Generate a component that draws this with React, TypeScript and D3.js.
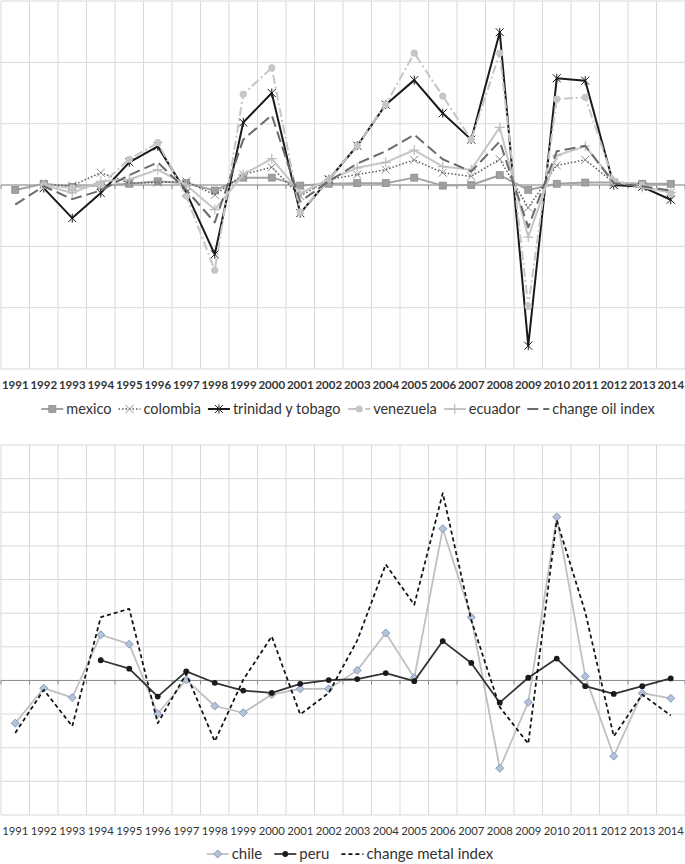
import React from "react";
import * as d3 from "d3";

const years = [
  "1991","1992","1993","1994","1995","1996","1997","1998","1999","2000","2001","2002",
  "2003","2004","2005","2006","2007","2008","2009","2010","2011","2012","2013","2014",
];

// top chart (oil exporters)
const mexico = [-0.08,0.02,-0.03,-0.01,0.02,0.06,0.03,-0.09,0.12,0.12,-0.01,0.02,0.03,0.03,0.12,-0.01,0.0,0.16,-0.08,0.02,0.04,0.04,0.02,0.02];
const colombia = [null,0.0,-0.01,0.2,0.03,0.04,0.06,-0.16,0.17,0.29,-0.18,0.09,0.17,0.25,0.41,0.2,0.14,0.42,-0.37,0.32,0.41,0.04,-0.03,-0.12];
const trinidad = [null,-0.05,-0.54,-0.13,0.37,0.63,-0.12,-1.13,1.02,1.5,-0.46,0.09,0.64,1.31,1.71,1.17,0.74,2.49,-2.62,1.74,1.7,0.0,-0.03,-0.24];
const venezuela = [null,0.0,-0.05,0.0,0.42,0.69,-0.18,-1.39,1.48,1.91,-0.45,0.09,0.64,1.31,2.15,1.45,0.74,2.15,-1.98,1.4,1.43,0.06,0.0,-0.14];
const ecuador = [null,0.0,-0.13,0.06,0.09,0.25,0.0,-0.4,0.17,0.43,-0.13,0.09,0.28,0.37,0.57,0.3,0.25,0.94,-0.85,0.48,0.63,0.06,-0.04,-0.12];
const oilIndex = [-0.32,-0.02,-0.23,-0.09,0.16,0.37,-0.08,-0.61,0.74,1.14,-0.27,0.06,0.35,0.55,0.82,0.42,0.22,0.71,-0.69,0.55,0.64,0.03,-0.02,-0.09];

// bottom chart (metal exporters)
const chile = [-1.27,-0.23,-0.51,1.36,1.08,-0.99,0.02,-0.76,-0.96,-0.42,-0.25,-0.25,0.3,1.41,0.08,4.51,1.88,-2.61,-0.65,4.86,0.12,-2.25,-0.38,-0.53];
const peru = [null,null,null,0.6,0.35,-0.48,0.27,-0.07,-0.3,-0.37,-0.1,0.01,0.04,0.22,-0.02,1.17,0.52,-0.66,0.08,0.65,-0.17,-0.4,-0.17,0.06];
const metalIndex = [-1.56,-0.28,-1.36,1.88,2.13,-1.27,0.2,-1.81,0.02,1.31,-1.01,-0.37,1.19,3.45,2.25,5.57,1.79,-0.79,-1.88,4.76,2.03,-1.66,-0.42,-1.04];

const topDomain = [-3, 3];
const bottomDomain = [-4, 7];

const FONT = "Lato, 'Open Sans', sans-serif";

type Marker = "square" | "x" | "star" | "circle" | "plus" | "diamond" | "dot" | "none";
interface Series {
  name: string;
  values: (number | null)[];
  stroke: string;
  width: number;
  dash?: string;
  marker: Marker;
  mColor: string;
  mStroke?: string;
}

const topSeries: Series[] = [
  { name: "mexico", values: mexico, stroke: "#a3a3a3", width: 2, marker: "square", mColor: "#a0a0a0", mStroke: "#8c8c8c" },
  { name: "colombia", values: colombia, stroke: "#595959", width: 1.5, dash: "1.5,2", marker: "x", mColor: "#8c8c8c" },
  { name: "trinidad y tobago", values: trinidad, stroke: "#1a1a1a", width: 2, marker: "star", mColor: "#1a1a1a" },
  { name: "venezuela", values: venezuela, stroke: "#c6c6c6", width: 2, dash: "9,3,2,3", marker: "circle", mColor: "#c6c6c6" },
  { name: "ecuador", values: ecuador, stroke: "#c6c6c6", width: 2, marker: "plus", mColor: "#bdbdbd" },
  { name: "change oil index", values: oilIndex, stroke: "#6b6b6b", width: 2, dash: "11,5", marker: "none", mColor: "#6b6b6b" },
];

const bottomSeries: Series[] = [
  { name: "chile", values: chile, stroke: "#bfbfbf", width: 1.75, marker: "diamond", mColor: "#b7c2d4", mStroke: "#7f9cc7" },
  { name: "peru", values: peru, stroke: "#333333", width: 1.75, marker: "dot", mColor: "#1a1a1a" },
  { name: "change metal index", values: metalIndex, stroke: "#111111", width: 1.75, dash: "4,3", marker: "none", mColor: "#111" },
];

function MarkerShape({ type, x, y, color, stroke }: { type: Marker; x: number; y: number; color: string; stroke?: string }) {
  const s = 4;
  switch (type) {
    case "square":
      return <rect x={x - 3.5} y={y - 3.5} width={7} height={7} fill={color} stroke={stroke} strokeWidth={0.75} />;
    case "x":
      return (
        <path d={`M${x - s},${y - s}L${x + s},${y + s}M${x - s},${y + s}L${x + s},${y - s}`} stroke={color} strokeWidth={1} fill="none" />
      );
    case "star":
      return (
        <path
          d={`M${x - s},${y - s}L${x + s},${y + s}M${x - s},${y + s}L${x + s},${y - s}M${x},${y - s - 0.5}L${x},${y + s + 0.5}`}
          stroke={color}
          strokeWidth={1}
          fill="none"
        />
      );
    case "circle":
      return <circle cx={x} cy={y} r={3.6} fill={color} />;
    case "plus":
      return <path d={`M${x - s - 1},${y}L${x + s + 1},${y}M${x},${y - s - 1}L${x},${y + s + 1}`} stroke={color} strokeWidth={1.2} fill="none" />;
    case "diamond":
      return <path d={`M${x},${y - 4}L${x + 4},${y}L${x},${y + 4}L${x - 4},${y}Z`} fill={color} stroke={stroke} strokeWidth={1} />;
    case "dot":
      return <circle cx={x} cy={y} r={2.9} fill={color} />;
    default:
      return null;
  }
}

let measureCtx: CanvasRenderingContext2D | null = null;
function textWidth(t: string, size: number, weight = "normal") {
  if (!measureCtx) {
    const c = document.createElement("canvas");
    measureCtx = c.getContext("2d");
  }
  if (!measureCtx) return t.length * size * 0.5;
  measureCtx.font = `${weight} ${size}px Lato`;
  return measureCtx.measureText(t).width;
}

function Legend({ series, y, center, size, gap, symW }: { series: Series[]; y: number; center: number; size: number; gap: number; symW: number }) {
  const items = series.map((s) => ({ s, w: symW + 3 + textWidth(s.name, size) }));
  const total = items.reduce((a, b) => a + b.w, 0) + gap * (items.length - 1);
  let cx = center - total / 2;
  return (
    <g>
      {items.map(({ s, w }) => {
        const x0 = cx;
        cx += w + gap;
        return (
          <g key={s.name}>
            <line x1={x0} x2={x0 + symW} y1={y} y2={y} stroke={s.stroke} strokeWidth={s.width} strokeDasharray={s.dash} />
            <MarkerShape type={s.marker} x={x0 + symW / 2} y={y} color={s.mColor} stroke={s.mStroke} />
            <text x={x0 + symW + 3} y={y} dy="0.35em" fontSize={size} fontFamily={FONT} fill="#333">
              {s.name}
            </text>
          </g>
        );
      })}
    </g>
  );
}

function Panel({
  series,
  domain,
  top,
  bottom,
  labelY,
  labelWeight,
  labelSize,
}: {
  series: Series[];
  domain: number[];
  top: number;
  bottom: number;
  labelY: number;
  labelWeight: string;
  labelSize: number;
}) {
  const x = d3.scaleBand<string>().domain(years).range([1, 685]);
  const y = d3.scaleLinear().domain(domain).range([bottom, top]);
  const cx = (i: number) => (x(years[i]) as number) + x.bandwidth() / 2;
  const hTicks = d3.range(domain[0], domain[1] + 1);
  const bounds = d3.range(0, years.length + 1).map((k) => 1 + k * x.bandwidth());
  const y0 = y(0);
  const line = d3
    .line<number | null>()
    .defined((d) => d != null)
    .x((_, i) => cx(i))
    .y((d) => y(d as number));
  return (
    <g>
      {hTicks.map((t) => (
        <line key={"h" + t} x1={1} x2={685} y1={y(t)} y2={y(t)} stroke="#d9d9d9" strokeWidth={1} />
      ))}
      {bounds.map((b, k) => (
        <line key={"v" + k} x1={b} x2={b} y1={top} y2={bottom} stroke="#d9d9d9" strokeWidth={1} />
      ))}
      <line x1={1} x2={685} y1={y0} y2={y0} stroke="#8c8c8c" strokeWidth={1} />
      {bounds.map((b, k) => (
        <line key={"t" + k} x1={b} x2={b} y1={y0} y2={y0 + 4} stroke="#8c8c8c" strokeWidth={1} />
      ))}
      {series.map((s) => (
        <g key={s.name}>
          <path d={line(s.values) || ""} fill="none" stroke={s.stroke} strokeWidth={s.width} strokeDasharray={s.dash} strokeLinejoin="round" />
          {s.values.map((v, i) =>
            v == null ? null : <MarkerShape key={i} type={s.marker} x={cx(i)} y={y(v)} color={s.mColor} stroke={s.mStroke} />
          )}
        </g>
      ))}
      {years.map((yr, i) => (
        <text key={yr} x={cx(i)} y={labelY} dy="0.35em" textAnchor="middle" fontSize={labelSize} fontWeight={labelWeight} fontFamily={FONT} fill="#333">
          {yr}
        </text>
      ))}
    </g>
  );
}

export default function App() {
  return (
    <svg width={685} height={864} style={{ position: "absolute", left: 0, top: 0, background: "#fff" }}>
      <rect x={0} y={0} width={685} height={864} fill="#fff" />
      <Panel series={topSeries} domain={topDomain} top={1} bottom={369} labelY={385} labelWeight="bold" labelSize={11.5} />
      <Legend series={topSeries} y={409} center={348} size={14.5} gap={7} symW={22} />
      <Panel series={bottomSeries} domain={bottomDomain} top={445} bottom={815} labelY={831} labelWeight="normal" labelSize={11.3} />
      <Legend series={bottomSeries} y={854} center={350} size={15} gap={12} symW={22} />
    </svg>
  );
}
